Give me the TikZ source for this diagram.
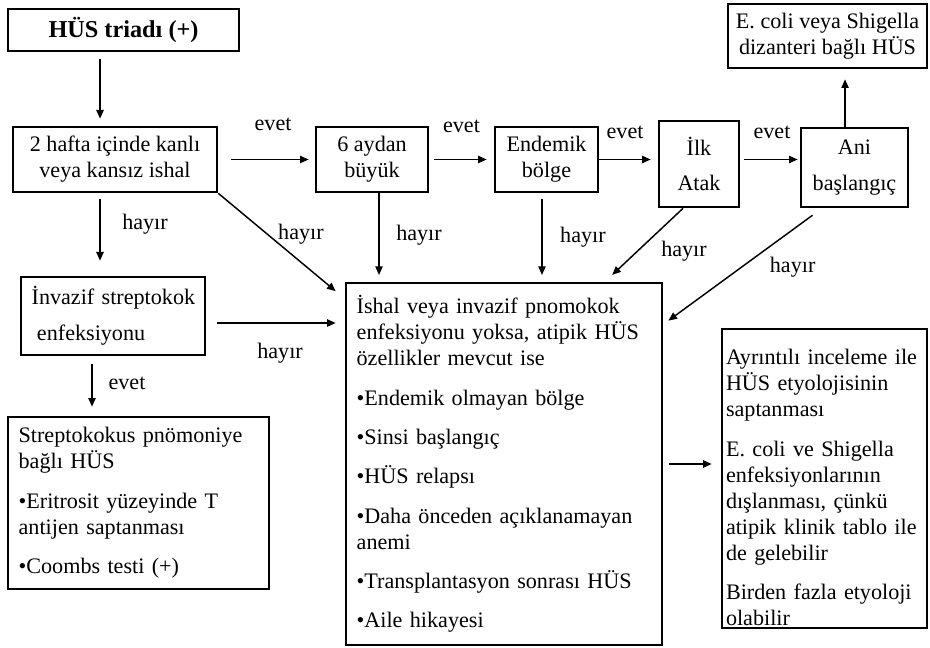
\documentclass[tikz,border=0pt]{standalone}
\usepackage{fontspec}
\setmainfont{Liberation Serif}
\usetikzlibrary{arrows.meta}

\begin{document}
\begin{tikzpicture}[x=0.75pt,y=-0.75pt]
\tikzstyle{every node}+=[font=\fontsize{16.6}{19.5}\selectfont]
\tikzstyle{kutu}=[draw, line width=2pt, inner sep=0pt, align=center]
\tikzstyle{liste}=[kutu, align=left, inner xsep=8pt]
\tikzstyle{ok}=[-{Triangle[length=6.5pt,width=5.5pt]}, line width=1.1pt, shorten <=0pt, shorten >=5pt]
\tikzstyle{etiket}=[anchor=base, inner sep=0pt]
\useasboundingbox (0,0) rectangle (930,648);
\node[kutu, minimum width=173.25pt, minimum height=31.5pt, font=\fontsize{18.2}{21}\selectfont\bfseries] (triad) at (123.5,30) {HÜS triadı (+)};
\node[kutu, minimum width=153pt, minimum height=48.75pt] (hafta) at (115,159.5) {2 hafta içinde kanlı\\veya kansız ishal};
\node[kutu, minimum width=84pt, minimum height=48.75pt] (aydan) at (372,159.5) {6 aydan\\büyük};
\node[kutu, minimum width=77.25pt, minimum height=48.75pt] (endemik) at (546.5,159.5) {Endemik\\bölge};
\node[kutu, minimum width=60pt, minimum height=64.5pt] (ilk) at (699,164) {İlk\\[7pt]Atak};
\node[kutu, minimum width=80.25pt, minimum height=59.25pt] (ani) at (854.5,167.5) {Ani\\[8pt]başlangıç};
\node[kutu, minimum width=149.25pt, minimum height=48pt] (ecoli) at (827.5,36) {E. coli veya Shigella\\dizanteri bağlı HÜS};
\node[liste, inner xsep=4pt, text width=130pt, minimum height=58.5pt] (invazif) at (113,316) {\hspace*{4pt}İnvazif streptokok\\[7.5pt]\hspace*{8pt}enfeksiyonu};
\node[liste, text width=179.75pt, minimum height=129pt] (strep) at (138.5,503) {Streptokokus pnömoniye\\bağlı HÜS\\[10pt]•Eritrosit yüzeyinde T\\antijen saptanması\\[10pt]•Coombs testi (+)};
\node[liste, text width=221pt, minimum height=271.5pt] (orta) at (504,464) {İshal veya invazif pnomokok\\enfeksiyonu yoksa, atipik HÜS\\özellikler mevcut ise\\[10pt]•Endemik olmayan bölge\\[10pt]•Sinsi başlangıç\\[10pt]•HÜS relapsı\\[10pt]•Daha önceden açıklanamayan\\anemi\\[10pt]•Transplantasyon sonrası HÜS\\[10pt]•Aile hikayesi};
\node[liste, inner xsep=3pt, text width=147.75pt, minimum height=224.25pt] (sag) at (824.5,478.5) {\rule{0pt}{25pt}Ayrıntılı inceleme ile\\HÜS etyolojisinin\\saptanması\\[10pt]E. coli ve Shigella\\enfeksiyonlarının\\dışlanması, çünkü\\atipik klinik tablo ile\\de gelebilir\\[10pt]Birden fazla etyoloji\\olabilir};
\draw[ok, shorten <=5.25pt, shorten >=5.25pt] ([xshift=-17.6pt]triad.south) -- ([xshift=-17.6pt]triad.south |- hafta.north);
\draw[ok, shorten <=9.75pt, shorten >=4.5pt] (hafta.east) -- (aydan.west) node[etiket, midway, xshift=4.9pt, yshift=22.1pt] {evet};
\draw[ok, shorten <=3.75pt, shorten >=5.25pt] (aydan.east) -- (endemik.west) node[etiket, midway, yshift=19.9pt] {evet};
\draw[ok, shorten >=5.25pt] (endemik.east) -- (ilk.west |- endemik.east) node[etiket, midway, xshift=-2.6pt, yshift=15.4pt] {evet};
\draw[ok, shorten <=3pt, shorten >=1.5pt] (ilk.east |- hafta.east) -- (ani.west |- hafta.east) node[etiket, midway, xshift=1.5pt, yshift=15.4pt] {evet};
\draw[ok, shorten >=7.5pt] ([xshift=-7.1pt]ani.north) -- ([xshift=-7.1pt]ani.north |- ecoli.south);
\draw[ok, shorten <=4.5pt, shorten >=11.25pt] ([xshift=-11.25pt]hafta.south) -- ([xshift=-11.25pt]hafta.south |- invazif.north) node[etiket, midway, xshift=33.75pt, yshift=4.1pt] {hayır};
\draw[ok, shorten >=8.8pt] (hafta.south east) -- ([yshift=-12.75pt]orta.north west) node[etiket, midway, xshift=14.6pt, yshift=4.5pt] {hayır};
\draw[ok] ([xshift=5.25pt]aydan.south) -- ([xshift=5.25pt]aydan.south |- orta.north) node[etiket, midway, xshift=30pt, yshift=-1.9pt] {hayır};
\draw[ok, shorten <=4.5pt] ([xshift=-3.4pt]endemik.south) -- ([xshift=-3.4pt]endemik.south |- orta.north) node[etiket, midway, xshift=30.75pt, yshift=-3.4pt] {hayır};
\draw[ok, shorten >=7.4pt] ([xshift=-12pt]ilk.south) -- ([xshift=75.75pt]orta.north) node[etiket, midway, xshift=30pt, yshift=-9pt] {hayır};
\draw[ok, shorten <=8.8pt, shorten >=4.7pt] ([xshift=-24.4pt]ani.south) -- ([yshift=-32pt]orta.north east) node[etiket, midway, xshift=37.5pt, yshift=-4.3pt] {hayır};
\draw[ok, shorten <=8.25pt, shorten >=6.75pt] ([yshift=-5.25pt]invazif.east) -- ([yshift=-5.25pt]invazif.east -| orta.west) node[etiket, midway, xshift=3.4pt, yshift=-26.25pt] {hayır};
\draw[ok, shorten <=6pt, shorten >=6.75pt] ([xshift=-15.75pt]invazif.south) -- ([xshift=-15.75pt]invazif.south |- strep.north) node[etiket, midway, xshift=26.25pt, yshift=-2.25pt] {evet};
\draw[ok, shorten <=4.5pt, shorten >=6.75pt] (orta.east) -- (orta.east -| sag.west);
\end{tikzpicture}
\end{document}
